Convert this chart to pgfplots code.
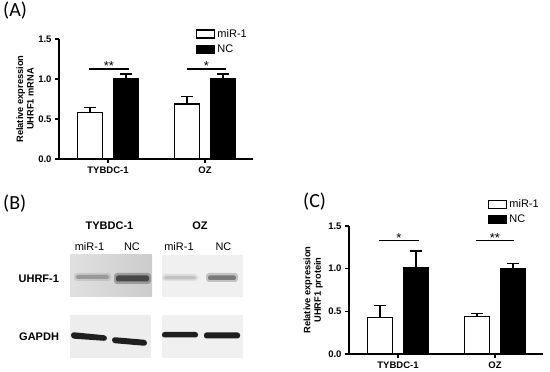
\documentclass[border=0pt]{standalone}
\usepackage{pgfplots}
\pgfplotsset{compat=1.18}
\usepackage{fontspec}
\setmainfont{Liberation Sans}
\newfontfamily\carlito{Carlito}

\pgfplotsset{
  mybar/.style={draw=black, line width=1.6pt},
  boxlegend/.style={legend image code/.code={\draw[##1, line width=1.4pt] (0pt,-4pt) rectangle (18pt,4pt);}},
  panel/.style={
    scale only axis, width=194pt,
    ybar, bar width=25pt,
    xmin=-0.505, xmax=1.495, ymin=0, ymax=1.5,
    axis x line*=bottom, axis y line*=left,
    axis line style={line width=1.5pt},
    xtick={0,1}, xticklabels={TYBDC-1,OZ},
    ytick={0,0.5,1,1.5},
    yticklabel style={/pgf/number format/.cd, fixed, fixed zerofill, precision=1},
    /pgf/number format/assume math mode=true,
    tick align=outside, major tick length=4pt,
    every tick/.style={line width=1.5pt, black},
    tick label style={font=\bfseries\fontsize{9.5}{11}\selectfont},
    error bars/y dir=plus, error bars/y explicit,
    error bars/error bar style={line width=1.6pt},
    error bars/error mark options={rotate=90, mark size=6pt, line width=1.6pt},
    legend style={draw=none, fill=none, anchor=north west,
      font=\fontsize{11}{12}\selectfont, row sep=2pt},
    legend cell align=left,
  },
}

\begin{document}
\begin{tikzpicture}[x=1pt,y=1pt]
\path[use as bounding box] (0,0) rectangle (550,372);

% ---------- Panel A ----------
\begin{axis}[panel, at={(59pt,213pt)}, anchor=south west, height=120pt,
  ylabel={Relative expression\\UHRF1 mRNA},
  every axis y label/.style={at={(axis description cs:-0.175,0.5)}, rotate=90, anchor=center,
    font=\bfseries\fontsize{9.3}{10.5}\selectfont, align=center},
  legend style={at={(axis description cs:0.69,1.117)}}]
\addplot[mybar, bar shift=-18pt, fill=white, boxlegend]
  coordinates {(0,0.58) +- (0,0.065) (1,0.69) +- (0,0.09)};
\addplot[mybar, bar shift=18pt, fill=black, boxlegend]
  coordinates {(0,1.00) +- (0,0.06) (1,1.00) +- (0,0.06)};
\legend{miR-1, NC}
\draw[line width=1.5pt] (axis cs:-0.196,1.125) -- (axis cs:0.216,1.125);
\draw[line width=1.5pt] (axis cs:0.814,1.125) -- (axis cs:1.216,1.125);
\node[anchor=base, font=\fontsize{13}{13}\selectfont, inner sep=0pt] at (axis cs:0.01,1.11) {**};
\node[anchor=base, font=\fontsize{13}{13}\selectfont, inner sep=0pt] at (axis cs:1.015,1.11) {*};
\end{axis}

% ---------- Panel C ----------
\begin{axis}[panel, at={(349pt,18pt)}, anchor=south west, height=128pt,
  ylabel={Relative expression\\UHRF1 protein},
  every axis y label/.style={at={(axis description cs:-0.185,0.5)}, rotate=90, anchor=center,
    font=\bfseries\fontsize{9.3}{10.5}\selectfont, align=center},
  legend style={at={(axis description cs:0.70,1.24)}}]
\addplot[mybar, bar shift=-18pt, fill=white, boxlegend]
  coordinates {(0,0.43) +- (0,0.14) (1,0.44) +- (0,0.035)};
\addplot[mybar, bar shift=18pt, fill=black, boxlegend]
  coordinates {(0,1.01) +- (0,0.20) (1,1.00) +- (0,0.06)};
\legend{miR-1, NC}
\draw[line width=1.5pt] (axis cs:-0.2,1.33) -- (axis cs:0.215,1.33);
\draw[line width=1.5pt] (axis cs:0.8,1.33) -- (axis cs:1.2,1.33);
\node[anchor=base, font=\fontsize{13}{13}\selectfont, inner sep=0pt] at (axis cs:0.01,1.31) {*};
\node[anchor=base, font=\fontsize{13}{13}\selectfont, inner sep=0pt] at (axis cs:1.0,1.31) {**};
\end{axis}

% ---------- panel letters ----------
\node[anchor=north west, inner sep=0pt, font=\carlito\fontsize{20}{22}\selectfont] at (3,370) {(A)};
\node[anchor=north west, inner sep=0pt, font=\carlito\fontsize{20}{22}\selectfont] at (3,177) {(B)};
\node[anchor=north west, inner sep=0pt, font=\carlito\fontsize{20}{22}\selectfont] at (303,179) {(C)};

% ---------- Panel B (blot) ----------
\begin{scope}[yshift=372pt, yscale=-1]
  \node[font=\bfseries\fontsize{11}{13}\selectfont] at (109.5,226) {TYBDC-1};
  \node[font=\bfseries\fontsize{11}{13}\selectfont] at (200,226) {OZ};
  \node[font=\fontsize{11}{13}\selectfont] at (89.5,246.5) {miR-1};
  \node[font=\fontsize{11}{13}\selectfont] at (132,246.5) {NC};
  \node[font=\fontsize{11}{13}\selectfont] at (179,246.5) {miR-1};
  \node[font=\fontsize{11}{13}\selectfont] at (223.5,246.5) {NC};
  \node[font=\bfseries\fontsize{11}{13}\selectfont, anchor=east] at (62.5,279) {UHRF-1};
  \node[font=\bfseries\fontsize{11}{13}\selectfont, anchor=east] at (62.5,337) {GAPDH};
  % membranes
  \shade[left color=black!12, right color=black!20] (70,255) rectangle (152,297);
  \fill[black!6] (162,255) rectangle (243,297);
  \fill[black!7] (70,315) rectangle (151,358);
  \fill[black!6] (162,315) rectangle (243,358);
  % UHRF-1 bands
  \fill[black!35, opacity=0.4, rounded corners=3pt] (74,273) rectangle (111,281);
  \fill[black!40, rounded corners=2pt] (76,275) rectangle (109,279);
  \fill[black!70, opacity=0.4, rounded corners=3pt] (114,273) rectangle (151,284);
  \fill[black!72, rounded corners=2pt] (116,275.5) rectangle (149,281.5);
  \fill[black!22, opacity=0.4, rounded corners=3pt] (162,274) rectangle (198,281);
  \fill[black!24, rounded corners=2pt] (164,276) rectangle (196,279.5);
  \fill[black!50, opacity=0.4, rounded corners=3pt] (206,273) rectangle (238,282);
  \fill[black!52, rounded corners=2pt] (208,275.5) rectangle (236,280);
  % GAPDH bands
  \fill[black!88, rounded corners=3pt] (71,332) -- (107,335.5) -- (107,341) -- (71,338.5) -- cycle;
  \fill[black!88, rounded corners=3pt] (112,337) -- (147,340) -- (147,346) -- (112,343) -- cycle;
  \fill[black!88, rounded corners=2.5pt] (162,332) rectangle (198,337.5);
  \fill[black!88, rounded corners=2.5pt] (204,332.5) rectangle (240,338.5);
\end{scope}
\end{tikzpicture}
\end{document}
